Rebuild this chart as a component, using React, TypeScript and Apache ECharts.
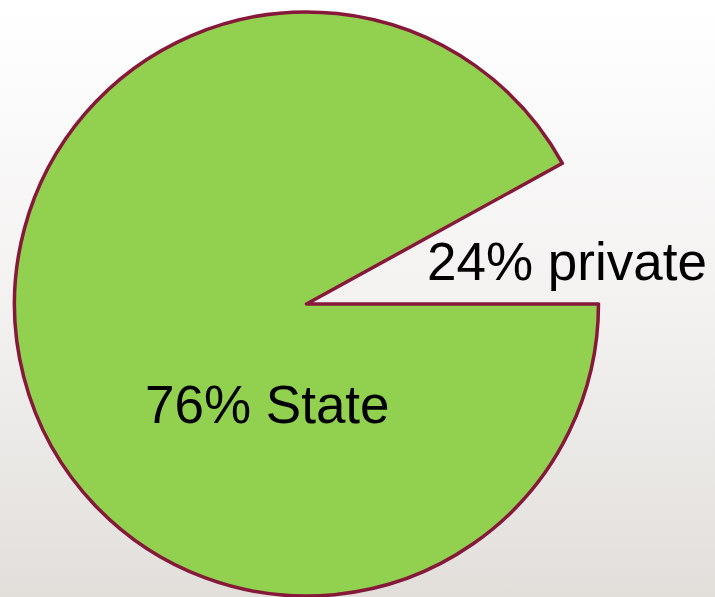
import React, { useEffect, useRef } from "react";
import * as echarts from "echarts";

// Categories and stated shares (as printed on the chart)
const categories = ["State", "private"];
const statedPercents = [76, 24];
// Angular shares as drawn in the picture (slice sweep)
const sliceValues = [92, 8];

const sliceColors = ["#92D050", "transparent"];

export default function App() {
  const ref = useRef<HTMLDivElement>(null);

  useEffect(() => {
    if (!ref.current) return;
    const chart = echarts.init(ref.current, null, { renderer: "svg" });
    const labelPos = [
      { x: 145, y: 404, align: "left" },
      { x: 427, y: 261, align: "left" },
    ];
    chart.setOption({
      animation: false,
      backgroundColor: "transparent",
      series: [
        {
          type: "pie",
          center: [306.5, 304],
          radius: 292,
          startAngle: 0,
          clockwise: true,
          silent: true,
          label: {
            show: true,
            position: "inside",
            formatter: (p: any) => `${statedPercents[p.dataIndex]}% ${categories[p.dataIndex]}`,
            color: "#000000",
            fontSize: 53,
            fontFamily: "Liberation Sans, Arial, sans-serif",
          },
          labelLine: { show: false },
          labelLayout: (p: any) => ({
            x: labelPos[p.dataIndex].x,
            y: labelPos[p.dataIndex].y,
            align: labelPos[p.dataIndex].align,
            verticalAlign: "middle",
          }),
          data: categories.map((c, i) => ({
            name: c,
            value: sliceValues[i],
            itemStyle:
              i === 0
                ? { color: sliceColors[i], borderColor: "#86183A", borderWidth: 3.5 }
                : { color: sliceColors[i], borderWidth: 0 },
          })),
        },
      ],
    });
    return () => chart.dispose();
  }, []);

  return (
    <div
      style={{
        position: "fixed",
        left: 0,
        top: 0,
        width: 715,
        height: 597,
        background: "linear-gradient(to bottom, #ffffff 0%, #f3f2f1 50%, #e2dfdb 100%)",
      }}
    >
      <div ref={ref} style={{ width: 715, height: 597 }} />
    </div>
  );
}
